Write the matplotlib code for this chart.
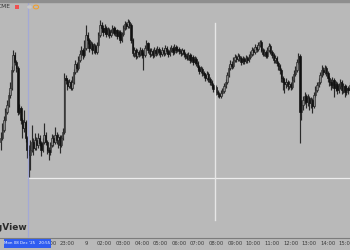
import matplotlib
matplotlib.use("Agg")
import matplotlib.pyplot as plt
from matplotlib.patches import Rectangle, Circle
import numpy as np

# 5-minute candles, first open then closes / highs / lows (price units)
first_open = 58
closes = [
    62, 70, 80, 88, 95, 105, 112, 130, 145, 138, 132, 88,
    92, 80, 72, 78, 62, 50, 45, 50, 58, 52, 60, 55,
    62, 57, 50, 58, 65, 58, 50, 48, 55, 62, 58, 65,
    60, 63, 55, 62, 68, 122, 120, 114, 118, 112, 118, 128,
    136, 132, 140, 146, 150, 145, 152, 165, 160, 152, 156, 150,
    154, 148, 155, 165, 175, 172, 168, 172, 166, 170, 165, 168,
    172, 167, 170, 164, 168, 160, 166, 172, 176, 174, 178, 175,
    160, 147, 150, 144, 148, 146, 150, 145, 145, 152, 157, 150,
    146, 149, 145, 150, 147, 151, 148, 146, 150, 147, 152, 149,
    146, 150, 152, 148, 153, 150, 151, 149, 147, 150, 146, 144,
    142, 145, 140, 143, 138, 141, 137, 133, 129, 131, 127, 125,
    122, 126, 121, 118, 115, 111, 113, 108, 106, 104, 107, 109,
    114, 118, 125, 132, 136, 134, 140, 143, 141, 144, 142, 138,
    141, 139, 142, 140, 143, 146, 150, 148, 153, 151, 155, 158,
    150, 146, 148, 144, 150, 154, 148, 145, 140, 142, 137, 134,
    130, 122, 118, 116, 118, 114, 116, 113, 120, 126, 130, 138,
    144, 88, 95, 100, 104, 98, 102, 97, 100, 94, 105, 110,
    115, 118, 125, 130, 128, 132, 127, 122, 118, 115, 120, 112,
    116, 110, 114, 118, 110, 114, 108, 112, 110, 115,
]
highs = [
    68, 77, 84, 92, 100, 108, 118, 134, 150, 148, 140, 134,
    96, 94, 82, 90, 80, 64, 55, 60, 75, 62, 67, 63,
    67, 65, 59, 62, 77, 68, 60, 53, 58, 66, 65, 73,
    68, 66, 65, 65, 72, 127, 125, 122, 121, 120, 124, 131,
    140, 138, 144, 150, 154, 152, 160, 175, 168, 162, 159, 158,
    157, 156, 158, 168, 180, 178, 175, 176, 174, 173, 172, 171,
    175, 174, 173, 171, 170, 170, 168, 175, 179, 178, 181, 180,
    177, 162, 153, 152, 151, 150, 153, 152, 148, 155, 160, 158,
    152, 152, 151, 153, 152, 154, 153, 150, 153, 152, 155, 154,
    151, 153, 155, 154, 156, 155, 154, 153, 151, 152, 151, 148,
    147, 148, 147, 146, 145, 144, 143, 139, 135, 134, 133, 129,
    127, 129, 128, 123, 120, 117, 116, 115, 110, 108, 110, 112,
    117, 121, 128, 135, 140, 139, 143, 146, 145, 147, 146, 144,
    144, 143, 145, 144, 146, 149, 153, 152, 156, 155, 158, 160,
    160, 152, 151, 150, 153, 157, 156, 150, 147, 145, 144, 139,
    136, 132, 124, 121, 122, 120, 119, 118, 124, 130, 134, 141,
    147, 146, 100, 104, 108, 106, 106, 104, 103, 102, 108, 114,
    118, 122, 128, 135, 133, 135, 134, 129, 124, 121, 123, 122,
    119, 118, 117, 121, 120, 117, 116, 115, 114, 118,
]
lows = [
    50, 60, 68, 78, 86, 93, 102, 110, 128, 135, 128, 85,
    86, 76, 62, 68, 58, 42, 23, 30, 48, 45, 50, 50,
    52, 54, 44, 48, 56, 55, 46, 40, 45, 53, 54, 56,
    56, 52, 47, 53, 60, 66, 116, 110, 112, 110, 110, 116,
    126, 128, 130, 138, 143, 141, 143, 150, 156, 148, 150, 146,
    147, 146, 146, 153, 163, 168, 164, 166, 163, 164, 162, 163,
    166, 165, 164, 161, 162, 157, 158, 164, 170, 171, 172, 172,
    157, 144, 143, 141, 142, 143, 144, 142, 130, 143, 150, 147,
    143, 144, 142, 143, 144, 145, 145, 143, 144, 144, 145, 146,
    143, 144, 148, 145, 146, 147, 148, 146, 144, 145, 143, 141,
    140, 140, 137, 138, 135, 136, 134, 130, 126, 127, 124, 122,
    119, 120, 118, 115, 112, 108, 108, 105, 103, 102, 102, 105,
    107, 112, 116, 123, 130, 131, 132, 138, 138, 139, 139, 135,
    136, 136, 137, 137, 138, 141, 144, 145, 146, 148, 149, 153,
    148, 144, 144, 142, 142, 148, 146, 142, 137, 137, 134, 130,
    126, 118, 110, 107, 112, 110, 111, 110, 111, 118, 124, 128,
    136, 57, 80, 90, 96, 92, 94, 90, 92, 87, 92, 103,
    108, 113, 116, 123, 125, 126, 124, 118, 114, 110, 112, 103,
    109, 106, 107, 111, 106, 107, 103, 105, 106, 108,
]
tick_pos = [31, 43, 55, 67, 79, 91, 103, 115, 127, 139, 151, 163, 175, 187, 199, 211, 223]
tick_labels = ["22:00", "23:00", "9", "02:00", "03:00", "04:00", "05:00", "06:00",
               "07:00", "08:00", "09:00", "10:00", "11:00", "12:00", "13:00", "14:00", "15:00"]
cursor_idx = 17.6        # Mon 08 Dec '25 20:55
hline_price = 22
vline_idx = 138.2
vline_range = (-20, 177)

BG = "#b9b9b9"
fig = plt.figure(figsize=(3.5, 2.5), dpi=100, facecolor=BG)
W, H = 350, 250
ax = fig.add_axes([0, 12 / H, 1, 236 / H])
ax.set_facecolor(BG)

n = len(closes)
x = np.arange(n)
opens = [first_open] + closes[:-1]
o = np.array(opens, float)
c = np.array(closes, float)
h = np.array(highs, float)
l = np.array(lows, float)
up = c >= o

ax.vlines(x, l, h, color="#2a2a2a", lw=0.85, zorder=2)
body_lo = np.minimum(o, c)
body_h = np.maximum(np.abs(c - o), 0.8)
ax.bar(x[up], body_h[up], bottom=body_lo[up], width=0.88, color="#8a8a8a",
       edgecolor="#262626", linewidth=0.45, zorder=3)
ax.bar(x[~up], body_h[~up], bottom=body_lo[~up], width=0.88, color="#111111",
       edgecolor="#111111", linewidth=0.45, zorder=3)

ax.set_xlim(-0.5, 225.3)
ax.set_ylim(-38, 198)

# drawings
ax.plot([cursor_idx, 225.3], [hline_price, hline_price], color="#ededed", lw=0.9, zorder=4)
ax.plot([vline_idx, vline_idx], vline_range, color="#e6e6e6", lw=1.0, zorder=4)
ax.axvline(cursor_idx, color="#a3a9d6", lw=0.9, zorder=5)

for s in ["top", "left", "right"]:
    ax.spines[s].set_visible(False)
ax.spines["bottom"].set_color("#7c7c7c")
ax.spines["bottom"].set_linewidth(0.8)
ax.set_yticks([])
ax.set_xticks(tick_pos)
ax.set_xticklabels(tick_labels, fontsize=3.8, color="#3a3a3a")
ax.tick_params(axis="x", length=0, pad=2.2)

# top border
fig.add_artist(Rectangle((0, 1 - 1.5 / H), 1, 1.5 / H, transform=fig.transFigure,
                         color="#8e8e8e", zorder=10))

# cursor time label
fig.add_artist(Rectangle((4 / W, 2 / H), 47 / W, 9.5 / H, transform=fig.transFigure,
                         facecolor="#2f5cf0", edgecolor="none", zorder=10))
fig.text(27.5 / W, 6.8 / H, "Mon 08 Dec '25   20:55", fontsize=2.9, color="white",
         ha="center", va="center", zorder=11)

# watermark
fig.text(28 / W, (H - 230) / H, "TradingView", fontsize=6.5, fontweight="bold",
         color="#2b2b2b", ha="right", va="baseline", zorder=6)

# legend items top-left
fig.text(10.5 / W, (H - 7) / H, "CME", fontsize=4.2, color="#333333", ha="right",
         va="center", zorder=6)
fig.add_artist(Rectangle((15 / W, (H - 9) / H), 4 / W, 4 / H, transform=fig.transFigure,
                         facecolor="#f05050", edgecolor="none", zorder=6))
fig.add_artist(Circle((29.5 / W, (H - 7) / H), 2.4 / W, transform=fig.transFigure,
                      facecolor="#c8c8c8", edgecolor="none", zorder=4))
fig.add_artist(Circle((36 / W, (H - 7) / H), 2.6 / W, transform=fig.transFigure,
                      facecolor="none", edgecolor="#f0a030", linewidth=0.8, zorder=6))

fig.savefig("out.png", dpi=100, facecolor=BG)
